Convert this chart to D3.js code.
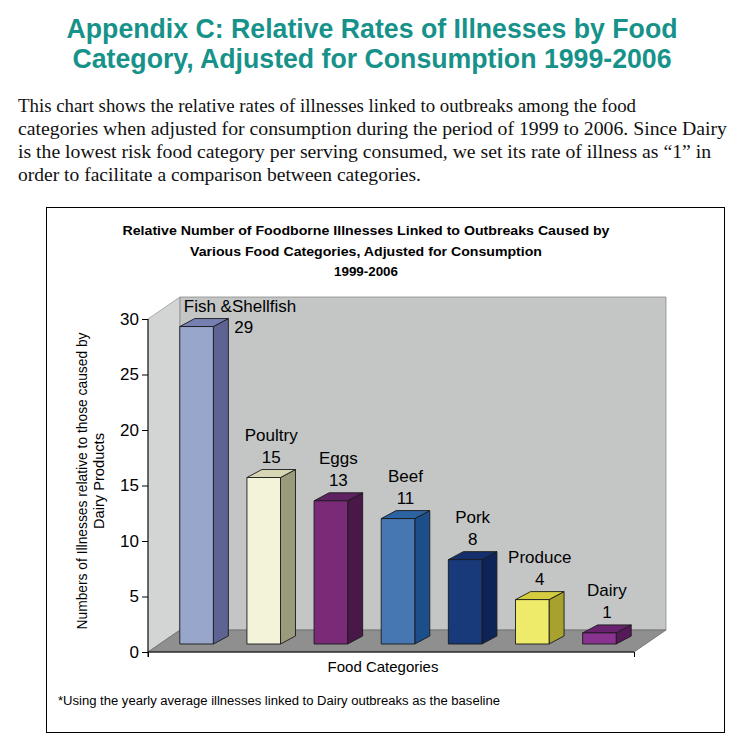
<!DOCTYPE html>
<html>
<head>
<meta charset="utf-8">
<script src="https://cdn.jsdelivr.net/npm/d3@7"></script>
<style>
  body { margin: 0; background: #fff; }
  svg text { font-family: "Liberation Sans", Arial, sans-serif; }
</style>
</head>
<body>
<svg id="vis" width="744" height="756"></svg>
<script>
// chart data
var categories = ["Fish &Shellfish", "Poultry", "Eggs", "Beef", "Pork", "Produce", "Dairy"];
var values = [28.6, 15, 12.9, 11.3, 7.6, 4, 1];
var yTicks = [0, 5, 10, 15, 20, 25, 30];

var frontColors = ["#99a6cc", "#f3f3d9", "#7b2a78", "#4677b3", "#183a7a", "#eeea6a", "#8a3290"];
var sideColors  = ["#5d6494", "#9a9a7c", "#4a1848", "#1c4e8a", "#0e2456", "#a7a12e", "#561a5a"];
var topColors   = ["#7580b0", "#d6d6b4", "#5f2260", "#2b63a3", "#15306c", "#d4cd3f", "#6a2270"];

var titleLines = ["Appendix C: Relative Rates of Illnesses by Food",
                  "Category, Adjusted for Consumption 1999-2006"];
var paraLines = [
    "This chart shows the relative rates of illnesses linked to outbreaks among the food",
    "categories when adjusted for consumption during the period of 1999 to 2006.  Since Dairy",
    "is the lowest risk food category per serving consumed, we set its rate of illness as \u201c1\u201d in",
    "order to facilitate a comparison between categories."
];
var chartTitle = ["Relative Number of Foodborne Illnesses Linked to Outbreaks Caused by",
                  "Various Food Categories, Adjusted for Consumption",
                  "1999-2006"];
var yTitle = ["Numbers of Illnesses relative to those caused by", "Dairy Products"];

(function () {
    var svg = d3.select("#vis");

    // page heading
    var tw = [611, 599];
    svg.selectAll("text.title").data(titleLines).enter().append("text")
        .attr("class", "title")
        .attr("x", 372).attr("y", function (d, i) { return 38 + i * 30; })
        .attr("text-anchor", "middle")
        .attr("font-size", 28).attr("font-weight", "bold")
        .attr("fill", "#17928a")
        .attr("textLength", function (d, i) { return tw[i]; })
        .attr("lengthAdjust", "spacingAndGlyphs")
        .text(function (d) { return d; });

    var pw = [618, 709, 693, 403];
    svg.selectAll("text.para").data(paraLines).enter().append("text")
        .attr("class", "para")
        .attr("x", 18).attr("y", function (d, i) { return 112 + i * 23; })
        .style("font-family", "'Liberation Serif', 'DejaVu Serif', serif")
        .attr("font-size", 19)
        .attr("fill", "#111")
        .attr("textLength", function (d, i) { return pw[i]; })
        .attr("lengthAdjust", "spacingAndGlyphs")
        .text(function (d) { return d; });

    // chart frame
    svg.append("rect")
        .attr("x", 46.5).attr("y", 207.5).attr("width", 678).attr("height", 525)
        .attr("fill", "#fff").attr("stroke", "#000").attr("stroke-width", 1);

    var ctw = [487, 352, 64];
    svg.selectAll("text.ctitle").data(chartTitle).enter().append("text")
        .attr("class", "ctitle")
        .attr("x", 366).attr("y", function (d, i) { return 235 + i * 20.5; })
        .attr("text-anchor", "middle")
        .attr("font-size", 13).attr("font-weight", "bold")
        .attr("textLength", function (d, i) { return ctw[i]; })
        .attr("lengthAdjust", "spacingAndGlyphs")
        .text(function (d) { return d; });

    // scales
    var y = d3.scaleLinear().domain([0, 30]).range([652, 319]);
    var xFront = d3.scaleLinear().domain([0, categories.length]).range([148, 634]);
    var x = d3.scaleBand().domain(categories).range([163, 633])
        .paddingInner(0.5).paddingOuter(0.25);

    var wallDx = 32, wallDy = -22;   // depth of the plot box
    var barDx = 15, barDy = -8;      // depth of each column
    var barShift = -8;               // columns sit a bit back from the front edge

    var x0 = xFront(0), x1 = xFront(categories.length);
    var yTop = y(30), yBot = y(0);

    var walls = svg.append("g");
    // left side wall
    walls.append("polygon")
        .attr("points", [[x0, yTop], [x0 + wallDx, yTop + wallDy], [x0 + wallDx, yBot + wallDy], [x0, yBot]].join(" "))
        .attr("fill", "#d3d4d4").attr("stroke", "#9a9a9a").attr("stroke-width", 0.8);
    // back wall
    walls.append("polygon")
        .attr("points", [[x0 + wallDx, yTop + wallDy], [x1 + wallDx, yTop + wallDy], [x1 + wallDx, yBot + wallDy], [x0 + wallDx, yBot + wallDy]].join(" "))
        .attr("fill", "#c4c6c6").attr("stroke", "#8a8a8a").attr("stroke-width", 0.8);
    // floor
    walls.append("polygon")
        .attr("points", [[x0, yBot], [x1, yBot], [x1 + wallDx, yBot + wallDy], [x0 + wallDx, yBot + wallDy]].join(" "))
        .attr("fill", "#8f8f8f").attr("stroke", "#6a6a6a").attr("stroke-width", 0.8);

    // columns
    var bw = x.bandwidth();
    var bars = svg.selectAll("g.bar").data(values).enter().append("g").attr("class", "bar");

    function pts(list) { return list.map(function (p) { return p.join(","); }).join(" "); }

    bars.each(function (v, i) {
        var g = d3.select(this);
        var bx = x(categories[i]);
        var yt = y(v) + barShift, yb = y(0) + barShift;
        g.append("polygon")
            .attr("points", pts([[bx + bw, yt], [bx + bw + barDx, yt + barDy], [bx + bw + barDx, yb + barDy], [bx + bw, yb]]))
            .attr("fill", sideColors[i]);
        g.append("polygon")
            .attr("points", pts([[bx, yt], [bx + bw, yt], [bx + bw + barDx, yt + barDy], [bx + barDx, yt + barDy]]))
            .attr("fill", topColors[i]);
        g.append("rect")
            .attr("x", bx).attr("y", yt).attr("width", bw).attr("height", yb - yt)
            .attr("fill", frontColors[i]);
        g.selectAll("polygon, rect")
            .attr("stroke", "#1a1a1a").attr("stroke-width", 0.9).attr("stroke-linejoin", "round");
    });

    // data labels
    var fmt = d3.format(".0f");
    bars.each(function (v, i) {
        var g = d3.select(this);
        var bx = x(categories[i]);
        var yt = y(v) + barShift;
        if (i === 0) {
            // the tallest one is placed beside the column
            g.append("text").attr("x", bx + 4).attr("y", yt - 15)
                .attr("font-size", 17).text(categories[i]);
            g.append("text").attr("x", bx + bw + barDx + 6).attr("y", yt + 6)
                .attr("font-size", 17).text(fmt(v));
        } else {
            var cx = bx + (bw + barDx) / 2;
            g.append("text").attr("x", cx).attr("y", yt + barDy - 29)
                .attr("text-anchor", "middle").attr("font-size", 17).text(categories[i]);
            g.append("text").attr("x", cx).attr("y", yt + barDy - 7)
                .attr("text-anchor", "middle").attr("font-size", 17).text(fmt(v));
        }
    });

    // axes
    var yAxis = d3.axisLeft(y).tickValues(yTicks).tickSize(6).tickPadding(3);
    var gy = svg.append("g").attr("transform", "translate(" + x0 + ",0)").call(yAxis);
    gy.select(".domain").attr("stroke", "#000").attr("d", "M0," + yTop + "V" + (yBot + 5));
    gy.selectAll("text").attr("font-size", 17).attr("font-family", "'Liberation Sans', Arial, sans-serif")
        .attr("fill", "#000");

    var xAxis = d3.axisBottom(xFront).tickValues([0, categories.length]).tickSize(5).tickFormat("");
    var gx = svg.append("g").attr("transform", "translate(0," + yBot + ")").call(xAxis);
    gx.select(".domain").attr("stroke", "#000").attr("d", "M" + x0 + ",0H" + x1);

    // axis titles
    svg.append("text")
        .attr("x", (x0 + x1) / 2 - 8).attr("y", 672)
        .attr("text-anchor", "middle").attr("font-size", 15)
        .text("Food Categories");

    var ytw = [297, 96];
    svg.selectAll("text.ytitle").data(yTitle).enter().append("text")
        .attr("class", "ytitle")
        .attr("transform", function (d, i) { return "translate(" + (87 + i * 17) + ",481) rotate(-90)"; })
        .attr("text-anchor", "middle").attr("font-size", 15)
        .attr("textLength", function (d, i) { return ytw[i]; })
        .attr("lengthAdjust", "spacingAndGlyphs")
        .text(function (d) { return d; });

    svg.append("text")
        .attr("x", 58).attr("y", 705)
        .attr("font-size", 12.5)
        .attr("textLength", 442).attr("lengthAdjust", "spacingAndGlyphs")
        .text("*Using the yearly average illnesses linked to Dairy outbreaks as the baseline");
})();
</script>
</body>
</html>
